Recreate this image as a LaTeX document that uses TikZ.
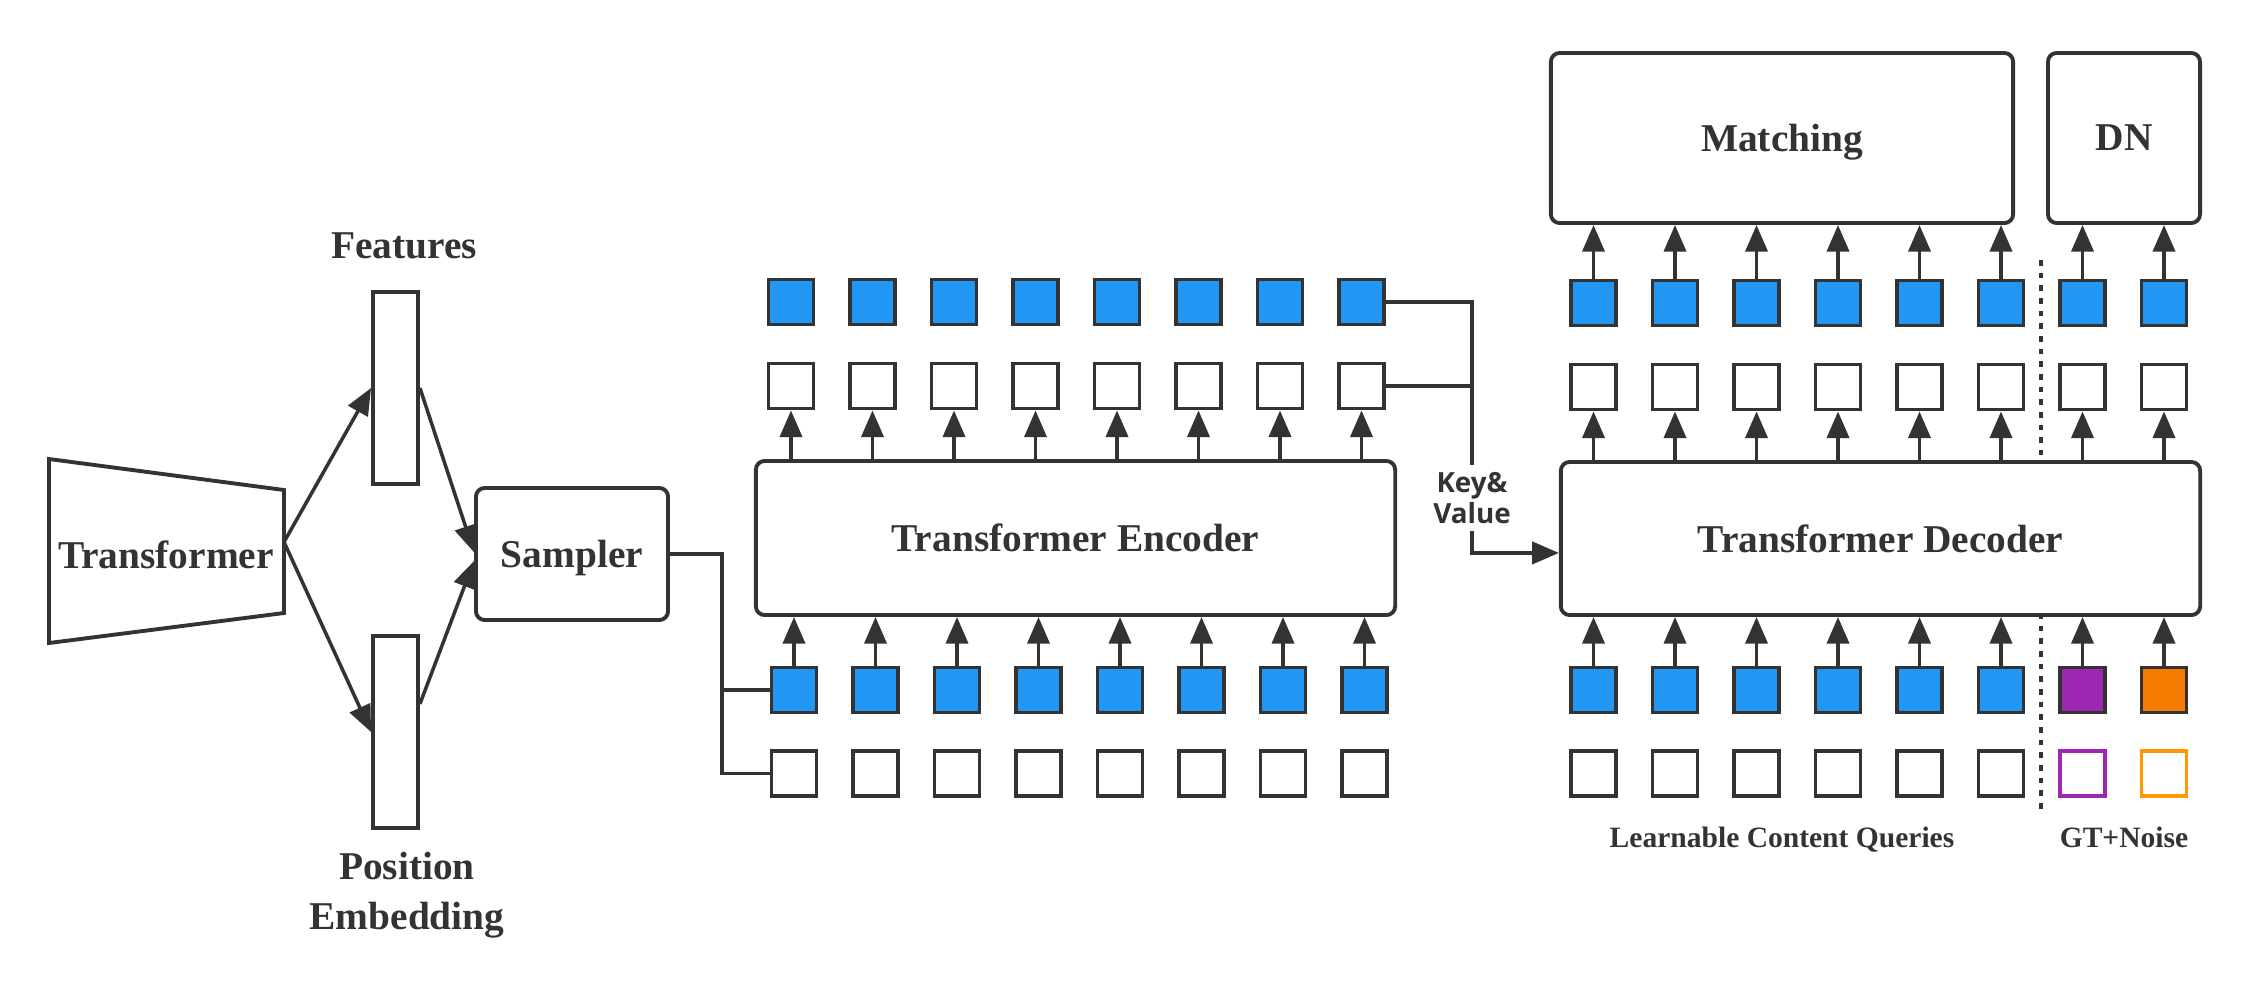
\documentclass[tikz,border=0pt]{standalone}
\usepackage{fontspec}
\setmainfont{Liberation Serif}
\newfontfamily\kvfont{Open Sans}
\usetikzlibrary{arrows.meta,positioning,calc}

\definecolor{qblue}{HTML}{2196F3}
\definecolor{qline}{HTML}{333333}
\definecolor{qpurple}{HTML}{9C27B0}
\definecolor{qorange}{HTML}{F57C00}
\definecolor{qorangel}{HTML}{FF9800}

\newcommand{\lblfont}{\fontsize{11.2}{14.2}\selectfont\bfseries}
\newcommand{\qryfont}{\fontsize{8.4}{10}\selectfont\bfseries}

\begin{document}
\begin{tikzpicture}[x=0.01cm,y=-0.01cm,
  box/.style={draw=qline,line width=1.1pt,rounded corners=2.5pt,text=qline,font=\lblfont,text depth=0pt},
  bar/.style={draw=qline,line width=1.1pt,minimum width=0.45cm,minimum height=1.92cm,inner sep=0pt},
  tok/.style={draw=qline,line width=1.1pt,minimum width=0.45cm,minimum height=0.45cm,inner sep=0pt},
  line/.style={draw=qline,line width=1pt},
  arr/.style={line,-{Triangle[length=7.6pt,width=6.3pt]}},
  lbl/.style={text=qline,font=\lblfont,align=center},
  qlbl/.style={text=qline,font=\qryfont},
  sep/.style={draw=qline,line width=1.3pt,dash pattern=on 1.6pt off 2pt}]
\useasboundingbox (0,0) rectangle (2263,996);

% backbone
\draw[draw=qline,line width=1.1pt] (49,459) -- (284,490) -- (284,613) -- (49,643) -- cycle;
\node[lbl,anchor=base] (tfm) at (166,568) {Transformer};
\coordinate (tfout) at (284,542);

\node[bar] (feat) at (395.5,388) {};
\node[bar] (pos) at (395.5,732) {};
\node[lbl,anchor=base] (featlbl) at (404,258) {Features};
\node[lbl] (poslbl) at (407,895) {Position\\Embedding};

\node[box,minimum width=1.92cm,minimum height=1.32cm] (smp) at (572,554) {Sampler};

\draw[arr] (tfout) -- (feat.west);
\draw[arr] (tfout) -- (pos.west);
\draw[arr] (feat.east) -- ([yshift=0.5pt]smp.west);
\draw[arr] ([yshift=8pt]pos.east) -- ([yshift=-2pt]smp.west);

% encoder
\node[box,minimum width=6.39cm,minimum height=1.54cm] (enc) at (1075.5,538) {Transformer Encoder};

\foreach \i in {0,...,7}{
  \node[tok,fill=qblue] (etb\i) at (791+81.5*\i,302) {};
  \node[tok,fill=white] (etw\i) at (791+81.5*\i,386) {};
  \node[tok,fill=qblue] (ebb\i) at (794+81.5*\i,690) {};
  \node[tok,fill=white] (ebw\i) at (794+81.5*\i,773.5) {};
  \draw[arr] (ebb\i) -- (ebb\i |- enc.south);
  \draw[arr] (enc.north -| etw\i) -- (etw\i);
}

\draw[line] (smp.east) -- ++(52,0) coordinate (sj) |- (ebw0.west);
\draw[line] (sj |- ebb0.west) -- (ebb0.west);

% decoder
\node[box,minimum width=6.39cm,minimum height=1.53cm] (dec) at (1880.5,538.5) {Transformer Decoder};
\node[box,minimum width=4.62cm,minimum height=1.70cm] (mat) at (1782,138) {Matching};
\node[box,minimum width=1.52cm,minimum height=1.70cm] (dn) at (2124,138) {DN};

\foreach \i/\fc/\oc in {0/qblue/qline,1/qblue/qline,2/qblue/qline,3/qblue/qline,
    4/qblue/qline,5/qblue/qline,6/qpurple/qpurple,7/qorange/qorangel}{
  \node[tok,fill=qblue] (dtb\i) at (1593.5+81.5*\i,303) {};
  \node[tok,fill=white] (dtw\i) at (1593.5+81.5*\i,387) {};
  \node[tok,fill=\fc] (dbb\i) at (1593.5+81.5*\i,690) {};
  \node[tok,fill=white,draw=\oc] (dbw\i) at (1593.5+81.5*\i,773.5) {};
  \draw[arr] (dbb\i) -- (dbb\i |- dec.south);
  \draw[arr] (dec.north -| dtw\i) -- (dtw\i);
  \draw[arr] (dtb\i) -- (dtb\i |- mat.south);
}

\draw[sep] (2041,260) -- (2041,455);
\draw[sep] (2041,613) -- (2041,812);

\node[qlbl,anchor=base] (lcq) at (1782,847) {Learnable Content Queries};
\node[qlbl,anchor=base] (gtn) at (2124,847) {GT+Noise};

% key & value into the decoder
\node[text=qline,font=\kvfont\fontsize{7.9}{8.6}\selectfont\bfseries,align=center,inner sep=2pt] (kv) at (1472,498) {Key\&\\Value};
\draw[line] (etb7.east) -| (kv.north);
\draw[line] (etw7.east) -- (etw7.east -| kv.north);
\draw[arr] (kv.south) |- ([yshift=-4.1pt]dec.west);

\end{tikzpicture}
\end{document}
